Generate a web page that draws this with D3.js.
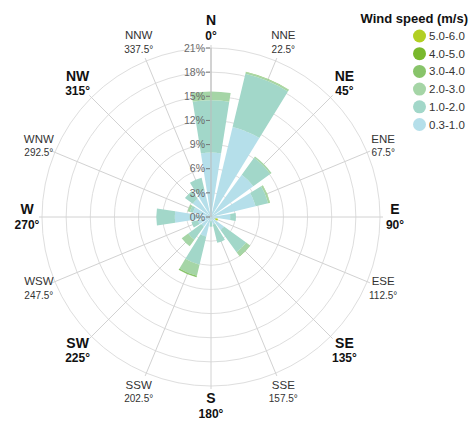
<!DOCTYPE html>
<html>
<head>
<meta charset="utf-8">
<script src="https://cdn.jsdelivr.net/npm/d3@7"></script>
<style>
  body { margin: 0; background: #fff; }
  svg { font-family: "Liberation Sans", Arial, sans-serif; }
</style>
</head>
<body>
<div id="chart"></div>
<script>
// Directions (16 compass points) and their angles
const directions = ["N", "NNE", "NE", "ENE", "E", "ESE", "SE", "SSE",
                    "S", "SSW", "SW", "WSW", "W", "WNW", "NW", "NNW"];
const degreeLabels = ["0°", "22.5°", "45°", "67.5°", "90°", "112.5°", "135°", "157.5°",
                      "180°", "202.5°", "225°", "247.5°", "270°", "292.5°", "315°", "337.5°"];

// Wind speed bins (m/s)
const speedBins = ["0.3-1.0", "1.0-2.0", "2.0-3.0", "3.0-4.0", "4.0-5.0", "5.0-6.0"];
const binColors = ["#b5dfea", "#a2d7c9", "#a5d5a6", "#88c46a", "#79b82c", "#b2cf22"];

// Frequency (%) per direction for each bin
const s03_10 = [8.0, 11.5, 6.5, 5.7, 2.4, 0.5, 2.0, 1.0, 0.5, 2.5, 1.5, 1.7, 4.5, 2.3, 2.8, 3.4];
const s10_20 = [6.5, 6.8, 2.6, 1.6, 0.7, 0.1, 3.4, 2.3, 0.7, 3.6, 2.0, 0.8, 2.3, 0.4, 1.2, 1.6];
const s20_30 = [1.1, 0.2, 0.2, 0.2, 0.0, 0.0, 0.6, 0.0, 0.0, 1.4, 1.0, 0.0, 0.0, 0.3, 0.0, 0.0];
const s30_40 = [0.0, 0.05, 0.0, 0.05, 0.0, 0.0, 0.05, 0.0, 0.0, 0.2, 0.0, 0.0, 0.0, 0.0, 0.0, 0.0];
const s40_50 = [0, 0, 0, 0, 0, 0, 0, 0, 0, 0, 0, 0, 0, 0, 0, 0];
const s50_60 = [0, 0, 0, 0, 0, 0.3, 0, 0, 0, 0, 0, 0, 0, 0, 0, 0];
const seriesValues = [s03_10, s10_20, s20_30, s30_40, s40_50, s50_60];

// Radial axis ticks (%)
const radialTicks = [0, 3, 6, 9, 12, 15, 18, 21];

const width = 475, height = 421;
const cx = 211, cy = 217;
const outerR = 169;

const svg = d3.select("#chart").append("svg")
  .attr("width", width)
  .attr("height", height);

const g = svg.append("g").attr("transform", `translate(${cx},${cy})`);

const rScale = d3.scaleLinear().domain([0, 21]).range([0, outerR]);
const angleScale = d3.scaleLinear().domain([0, 16]).range([0, 2 * Math.PI]);

// Table for stacking
const table = directions.map((d, i) => {
  const row = { dir: d, index: i };
  speedBins.forEach((b, j) => { row[b] = seriesValues[j][i]; });
  return row;
});
const stacked = d3.stack().keys(speedBins)(table);

// Grid circles
g.selectAll("circle.grid")
  .data(radialTicks.slice(1))
  .join("circle")
  .attr("class", "grid")
  .attr("r", d => rScale(d))
  .attr("fill", "none")
  .attr("stroke", "#dedede")
  .attr("stroke-width", 1);

// Radial spokes
g.selectAll("line.spoke")
  .data(directions)
  .join("line")
  .attr("class", "spoke")
  .attr("x1", 0).attr("y1", 0)
  .attr("x2", (d, i) => Math.sin(angleScale(i)) * (outerR + 3))
  .attr("y2", (d, i) => -Math.cos(angleScale(i)) * (outerR + 3))
  .attr("stroke", "#d2d2d2")
  .attr("stroke-width", 1);

// Bars
const halfWidth = (18 / 2) * Math.PI / 180;
const arc = d3.arc()
  .innerRadius(d => rScale(d[0]))
  .outerRadius(d => rScale(d[1]))
  .startAngle(d => angleScale(d.data.index) - halfWidth)
  .endAngle(d => angleScale(d.data.index) + halfWidth);

stacked.forEach((layer, j) => {
  g.append("g")
    .selectAll("path")
    .data(layer.filter(d => d[1] - d[0] > 0))
    .join("path")
    .attr("d", arc)
    .attr("fill", binColors[j]);
});

// Radial axis along north
const axis = g.append("g");
axis.append("line")
  .attr("x1", 0).attr("y1", 0)
  .attr("x2", 0).attr("y2", -outerR)
  .attr("stroke", "#bbb");
axis.selectAll("line.tick")
  .data(radialTicks)
  .join("line")
  .attr("class", "tick")
  .attr("x1", -5).attr("x2", -1)
  .attr("y1", d => -rScale(d)).attr("y2", d => -rScale(d))
  .attr("stroke", "#777");
axis.selectAll("text")
  .data(radialTicks)
  .join("text")
  .attr("x", -6)
  .attr("y", d => -rScale(d))
  .attr("dy", "0.35em")
  .attr("text-anchor", "end")
  .attr("font-size", "10.5px")
  .attr("fill", "#6a6a6a")
  .text(d => d + "%");

// Direction labels
const labels = g.append("g");
directions.forEach((d, i) => {
  const a = angleScale(i);
  const major = i % 2 === 0;
  const R = 189 - 5 * Math.pow(Math.abs(Math.sin(a)), 8);
  const x = Math.sin(a) * R;
  const y = -Math.cos(a) * R;
  const gap = major ? 7.5 : 7;
  labels.append("text")
    .attr("x", x).attr("y", y - gap)
    .attr("dy", "0.35em")
    .attr("text-anchor", "middle")
    .attr("font-size", major ? "14px" : "11.5px")
    .attr("font-weight", major ? "bold" : "normal")
    .attr("fill", major ? "#111" : "#333")
    .text(d);
  labels.append("text")
    .attr("x", x).attr("y", y + gap)
    .attr("dy", "0.35em")
    .attr("text-anchor", "middle")
    .attr("font-size", major ? "12px" : "10px")
    .attr("font-weight", major ? "bold" : "normal")
    .attr("fill", major ? "#111" : "#333")
    .text(degreeLabels[i]);
});

// Legend
const legend = svg.append("g");
legend.append("text")
  .attr("x", 468).attr("y", 18)
  .attr("dy", "0.35em")
  .attr("text-anchor", "end")
  .attr("font-size", "13px")
  .attr("font-weight", "bold")
  .attr("fill", "#111")
  .text("Wind speed (m/s)");

const legendOrder = d3.range(speedBins.length).reverse();
legendOrder.forEach((j, k) => {
  const y = 36 + k * 17.7;
  legend.append("circle")
    .attr("cx", 419.5).attr("cy", y).attr("r", 6.5)
    .attr("fill", binColors[j]);
  legend.append("text")
    .attr("x", 429).attr("y", y)
    .attr("dy", "0.35em")
    .attr("font-size", "11.5px")
    .attr("fill", "#333")
    .text(speedBins[j]);
});
</script>
</body>
</html>
